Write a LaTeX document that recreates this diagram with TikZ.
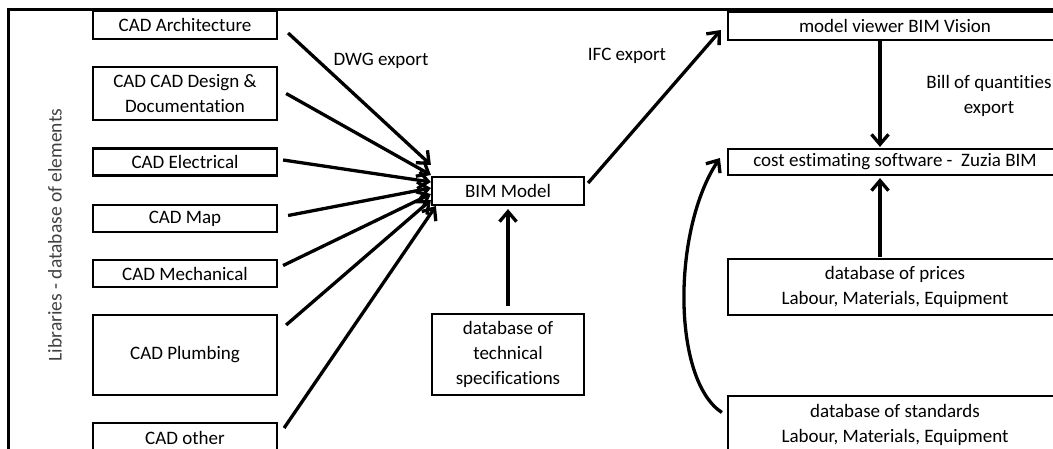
\documentclass[tikz,border=0pt]{standalone}
\usepackage{fontspec}
\setmainfont{Carlito}[Ligatures=NoCommon]
\usetikzlibrary{arrows.meta}

\begin{document}
\begin{tikzpicture}[x=1pt,y=-1pt,
  >={Straight Barb[length=10pt,width=17pt]},
  box/.style={draw,rectangle,line width=2.2pt,align=center,inner sep=0pt},
  leftbox/.style={box,minimum width=184pt},
  rightbox/.style={box,minimum width=334pt},
  midbox/.style={box,minimum width=152pt},
  link/.style={->,line width=3.3pt},
  every node/.style={font=\fontsize{19}{25}\selectfont}]
\useasboundingbox (0,0) rectangle (1053,449);
\clip (0,0) rectangle (1053,449);
\draw[line width=3pt] (8,470) -- (8,10) -- (1070,10);

\node[rotate=90,text=black!75,font=\fontsize{19.5}{25}\selectfont] at (55,235) (lib) {Libraries - database of elements};

\node[leftbox,minimum height=28pt] at (185,25) (arch) {CAD Architecture};
\node[leftbox,minimum height=53pt] at (185,93.5) (design) {CAD CAD Design \&\\Documentation};
\node[leftbox,minimum height=27pt] at (185,162) (elec) {CAD Electrical};
\node[leftbox,minimum height=27pt] at (185,218.5) (map) {CAD Map};
\node[leftbox,minimum height=27pt] at (185,273.5) (mech) {CAD Mechanical};
\node[leftbox,minimum height=80pt] at (185,355) (plumb) {CAD Plumbing};
\node[leftbox,minimum height=30pt] at (185,438) (other) {CAD other};

\node[midbox,minimum height=28pt] at (508,191) (bim) {BIM Model};
\node[midbox,minimum height=81pt] at (508,354.5) (tech) {database of\\technical\\specifications};

\node[rightbox,minimum height=28pt] at (895,26) (viewer) {model viewer BIM Vision};
\node[rightbox,minimum height=26pt] at (895,162) (cost) {cost estimating software -\ \ Zuzia BIM};
\node[rightbox,minimum height=56pt] at (895,287) (prices) {database of prices\\Labour, Materials, Equipment};
\node[rightbox,minimum height=57pt] at (895,424.5) (std) {database of standards\\Labour, Materials, Equipment};

\node at (381,61) (dwg) {DWG export};
\node at (627,56) (ifc) {IFC export};
\node[align=center] at (989,96) (boq) {Bill of quantities\\export};

% CAD -> BIM
\draw[link] ([xshift=10pt,yshift=-8pt]arch.east) -- ([yshift=26pt]bim.west);
\draw[link] ([xshift=8pt]design.east) -- ([yshift=16pt]bim.west);
\draw[link] ([xshift=5pt,yshift=2pt]elec.east) -- ([yshift=9pt]bim.west);
\draw[link] ([xshift=10pt,yshift=3pt]map.east) -- ([yshift=3pt]bim.west);
\draw[link] ([xshift=5pt,yshift=8pt]mech.east) -- ([yshift=-3pt]bim.west);
\draw[link] ([xshift=8pt,yshift=30pt]plumb.east) -- ([yshift=-9pt]bim.west);
\draw[link] ([xshift=6pt,yshift=10pt]other.east) -- ([xshift=5pt,yshift=-15pt]bim.west);
\draw[link] ([yshift=7pt]tech.north) -- ([yshift=-3pt]bim.south);

% IFC and costing
\draw[link] ([xshift=3pt,yshift=8pt]bim.east) -- ([xshift=-6pt,yshift=-4pt]viewer.west);
\draw[link] ([xshift=-15pt]viewer.south) -- ([xshift=-15pt,yshift=1pt]cost.north);
\draw[link] ([xshift=-15pt,yshift=1pt]prices.north) -- ([xshift=-15pt,yshift=-2pt]cost.south);
\draw[link] ([xshift=-5pt,yshift=12pt]std.west) .. controls (672,380) and (672,230) .. ([xshift=-7pt,yshift=4pt]cost.west);
\end{tikzpicture}
\end{document}
